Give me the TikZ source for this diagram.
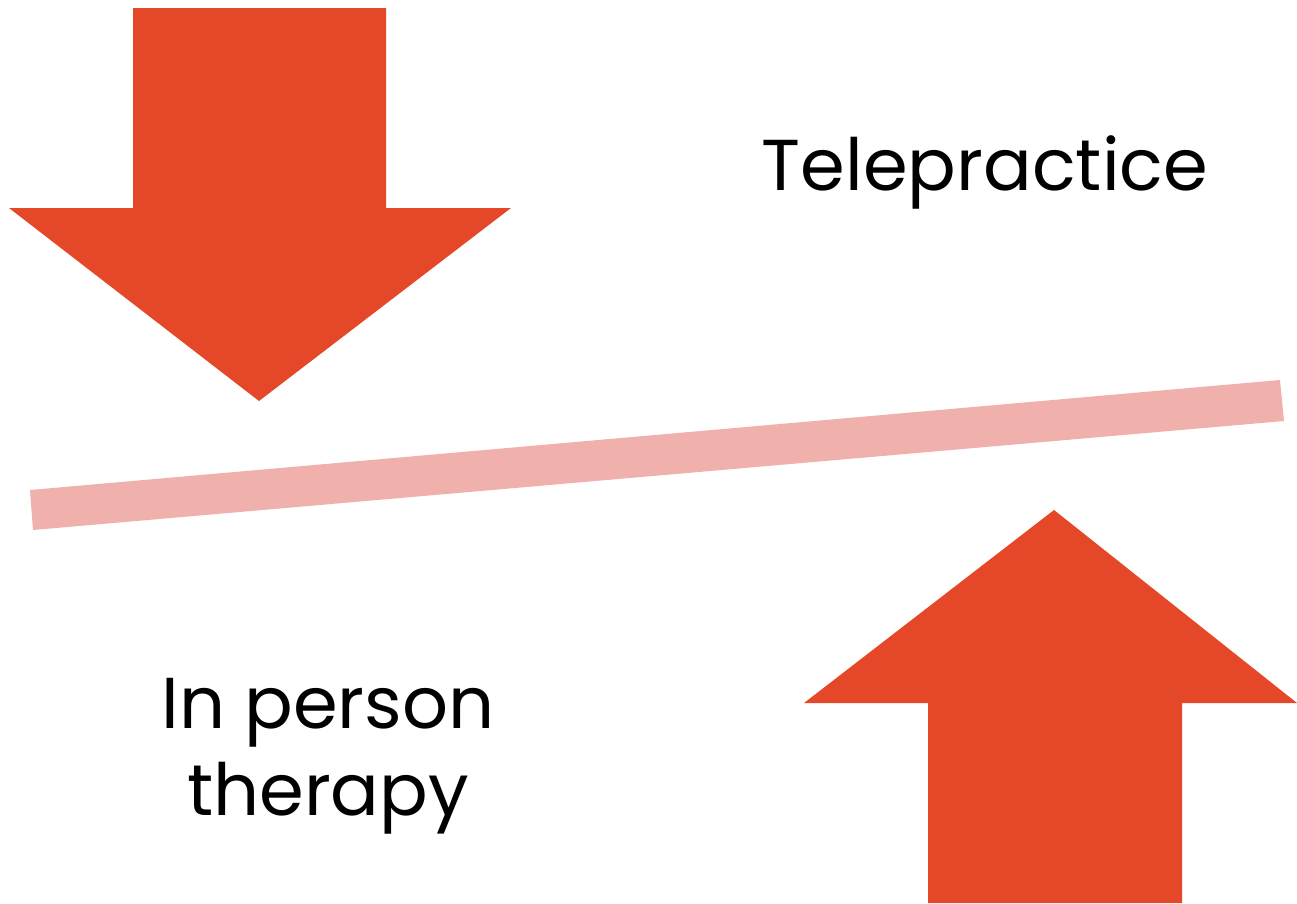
\documentclass[tikz,border=0pt]{standalone}
\usepackage{fontspec}
\setmainfont{Poppins}
\definecolor{arrowred}{HTML}{E54828}
\definecolor{barpink}{HTML}{F0B0AC}
\begin{document}
\begin{tikzpicture}[x=0.02cm,y=-0.02cm,
  bigarrow/.style={fill=arrowred,draw=none},
  label/.style={font=\fontsize{41}{49}\selectfont,text=black,align=center,inner sep=0pt}]
\useasboundingbox (0,0) rectangle (1297,903);
% down arrow
\fill[bigarrow] (133,8) -- (386,8) -- (386,208) -- (511,208) -- (259,401) -- (9,208) -- (133,208) -- cycle;
% up arrow
\fill[bigarrow] (928,903) -- (1182,903) -- (1182,703) -- (1297,703) -- (1054,510) -- (804,703) -- (928,703) -- cycle;
% bar
\fill[barpink] (30,490) -- (1280,380) -- (1284,421) -- (33,530) -- cycle;
\node[label,anchor=base] (tele) at (985,190) {Telepractice};
\node[label,anchor=base] (inp) at (328,728) {In person};
\node[label,anchor=base] (ther) at (328,815) {therapy};
\end{tikzpicture}
\end{document}
